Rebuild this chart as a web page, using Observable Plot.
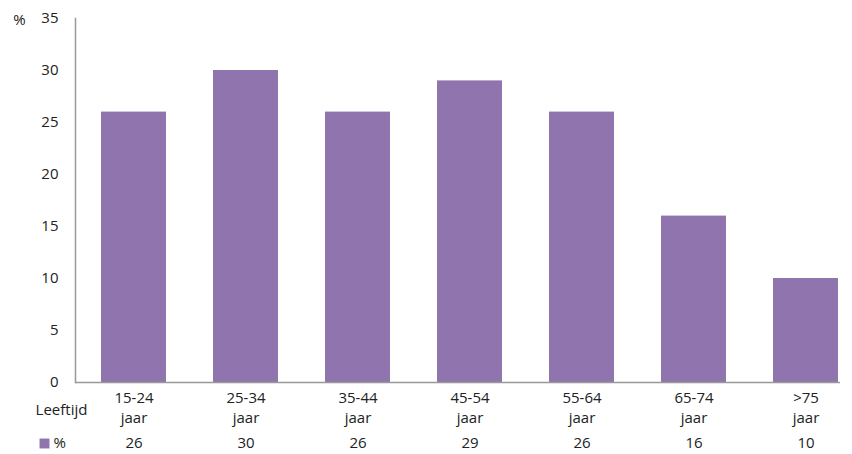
<!DOCTYPE html>
<html>
<head>
<meta charset="utf-8">
<script src="https://cdn.jsdelivr.net/npm/d3@7"></script>
<script src="https://cdn.jsdelivr.net/npm/@observablehq/plot@0.6"></script>
<style>
  body { margin: 0; background: #fff; }
  svg { display: block; }
</style>
</head>
<body>
<div id="chart"></div>
<script>
const categories = ["15-24", "25-34", "35-44", "45-54", "55-64", "65-74", ">75"];
const unitLabel = "jaar";
const values = [26, 30, 26, 29, 26, 16, 10];
const yTicks = [0, 5, 10, 15, 20, 25, 30, 35];
const seriesName = "%";
const rowLabel = "Leeftijd";

const data = categories.map((c, i) => ({cat: c, value: values[i]}));
const color = "#8f74ad";
const font = "'Open Sans', sans-serif";
const fs = 15;
const ink = "#222";

const chart = Plot.plot({
  width: 852,
  height: 454,
  marginLeft: 75,
  marginRight: 12,
  marginTop: 18,
  marginBottom: 72,
  style: {fontFamily: font, fontSize: fs + "px", color: ink, background: "#fff"},
  x: {domain: categories, range: [75.25, 862.75], paddingInner: 0.422, paddingOuter: 0.211, axis: null},
  y: {domain: [0, 35], axis: null},
  marks: [
    Plot.barY(data, {x: "cat", y: "value", fill: color}),
    Plot.ruleY([0], {stroke: "#999", strokeWidth: 1.5}),
    Plot.frame({anchor: "left", stroke: "#999", strokeWidth: 1.5}),
    Plot.axisY({ticks: yTicks, tickSize: 0, tickPadding: 17, label: null, fontSize: fs, fill: ink}),
    Plot.text([seriesName], {frameAnchor: "top-left", textAnchor: "middle", lineAnchor: "middle", dx: -56, dy: 2, text: d => d, fontSize: fs, fill: ink}),
    Plot.text(data, {x: "cat", text: "cat", frameAnchor: "bottom", lineAnchor: "middle", dy: 15.5, fontSize: fs, fill: ink}),
    Plot.text(data, {x: "cat", text: () => unitLabel, frameAnchor: "bottom", lineAnchor: "middle", dy: 36, fontSize: fs, fill: ink}),
    Plot.text([rowLabel], {frameAnchor: "bottom-left", textAnchor: "middle", lineAnchor: "middle", text: d => d, dx: -14, dy: 28, fontSize: fs, fill: ink}),
    Plot.text(data, {x: "cat", text: d => String(d.value), frameAnchor: "bottom", lineAnchor: "middle", dy: 61, fontSize: fs, fill: ink}),
    Plot.dot([seriesName], {frameAnchor: "bottom-left", dx: -31, dy: 61, symbol: "square", r: 5.6, fill: color, stroke: null}),
    Plot.text([seriesName], {frameAnchor: "bottom-left", text: d => d, textAnchor: "start", lineAnchor: "middle", dx: -22, dy: 61, fontSize: fs, fill: ink})
  ]
});
document.getElementById("chart").append(chart);
</script>
</body>
</html>
